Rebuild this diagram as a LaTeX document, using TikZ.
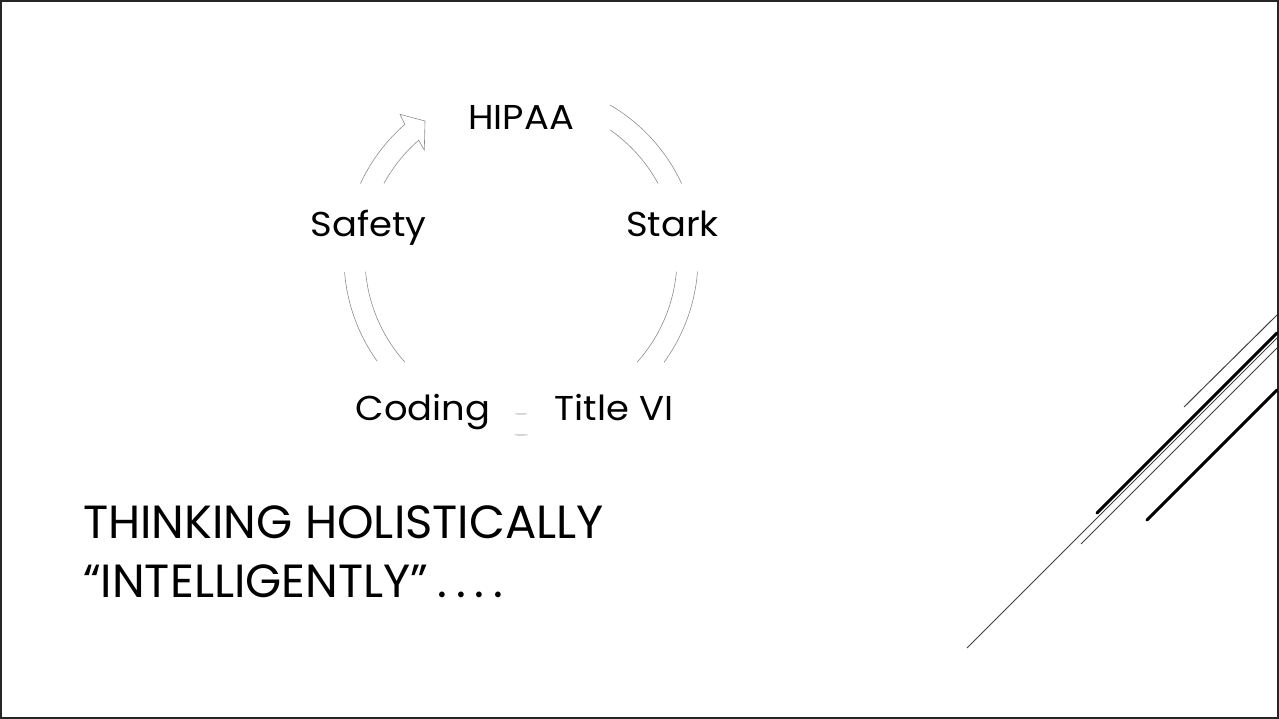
\documentclass[tikz,border=0pt]{standalone}
\usepackage{fontspec}
\setmainfont{Poppins}
\newfontfamily\lblfont{Poppins}[FakeStretch=1.07]
\begin{document}
\begin{tikzpicture}[x=1pt,y=-1pt,
  lbl/.style={inner sep=0pt, anchor=base, font=\lblfont\fontsize{34.5}{40}\selectfont},
  ttl/.style={inner sep=0pt, anchor=base west, font=\fontsize{46.5}{55}\selectfont},
  band/.style={draw=black!45, line width=0.6pt},
  decothin/.style={draw=black!75, line width=1pt},
  decothick/.style={draw=black, line width=3pt, line cap=round}]
\useasboundingbox (0,0) rectangle (1279,719);
\draw[black!85, line width=2pt] (1,1) rectangle (1277.5,717.5);
% cycle centre
\coordinate (c) at (521,258);
% labels
\node[lbl] (hipaa) at (521,130) {HIPAA};
\node[lbl] (stark) at (672.5,237) {Stark};
\node[lbl] (titlevi) at (614,420) {Title VI};
\node[lbl] (coding) at (423,420) {Coding};
\node[lbl] (safety) at (368.5,237) {Safety};
% arrow bands
\draw[band] ([shift={(-59.8:177)}]c) arc[start angle=-59.8, end angle=-24.9, radius=177];
\draw[band] ([shift={(-55.2:156)}]c) arc[start angle=-55.2, end angle=-28.5, radius=156];
\draw[band] ([shift={(4.4:177)}]c) arc[start angle=4.4, end angle=36.1, radius=177];
\draw[band] ([shift={(5.0:156)}]c) arc[start angle=5.0, end angle=41.9, radius=156];
\draw[band] ([shift={(87.9:177)}]c) arc[start angle=87.9, end angle=92.1, radius=177];
\draw[band] ([shift={(87.8:156)}]c) arc[start angle=87.8, end angle=92.2, radius=156];
\draw[band] ([shift={(144.3:177)}]c) arc[start angle=144.3, end angle=175.5, radius=177];
\draw[band] ([shift={(138.2:156)}]c) arc[start angle=138.2, end angle=175.0, radius=156];
\draw[band, line join=miter] ([shift={(-155.1:177)}]c) arc[start angle=-155.1, end angle=-131, radius=177]
  -- (400,114.3) -- (425,121) -- (424.3,150) -- ([shift={(-131:156)}]c)
  arc[start angle=-131, end angle=-151.5, radius=156];
% title
\node[ttl] (ttl1) at (83,538) {THINKING HOLISTICALLY};
\node[ttl] (ttl2) at (83,597) {“INTELLIGENTLY”\hspace{9pt}.\hspace{9pt}.\hspace{9pt}.\hspace{9pt}.};
% decorative diagonals
\draw[decothin] (1184,407) -- (1277,315);
\draw[decothick] (1097,513) -- (1277,333);
\draw[decothin] (967,648) -- (1277,338);
\draw[decothin] (1081,544) -- (1277,348);
\draw[decothick] (1147,520) -- (1277,390);
\end{tikzpicture}
\end{document}
